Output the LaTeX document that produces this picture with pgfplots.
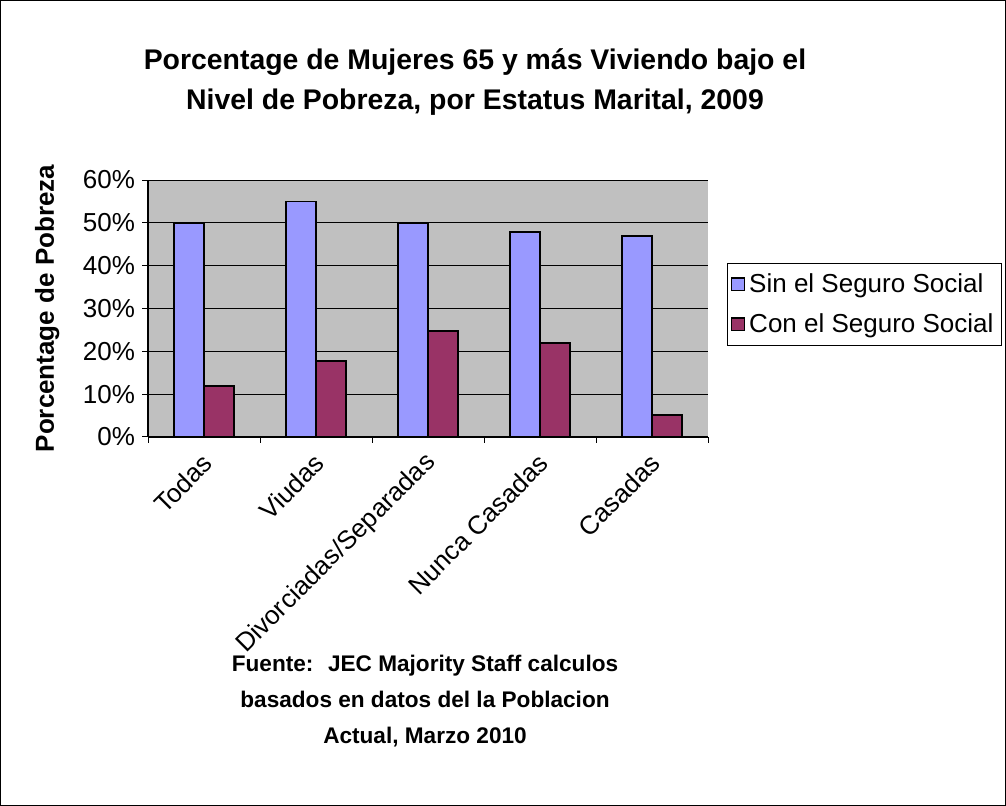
\documentclass[border=0pt]{standalone}
\usepackage{fontspec}
\setmainfont{Liberation Sans}
\usepackage{pgfplots}
\pgfplotsset{compat=1.18}
\definecolor{exblue}{HTML}{9999FF}
\definecolor{exred}{HTML}{993366}
\definecolor{exgray}{HTML}{C0C0C0}
\begin{document}
\begin{tikzpicture}
\draw[line width=0.7pt] (0.35pt,-0.35pt) rectangle (502.65pt,-402.65pt);
\node[font=\bfseries\fontsize{14.2}{20}\selectfont, align=center] at (237.5pt,-41pt) {Porcentage de Mujeres 65 y más Viviendo bajo el\\Nivel de Pobreza, por Estatus Marital, 2009};
\node[font=\bfseries\fontsize{11.3}{18}\selectfont, align=center] at (212.5pt,-350.5pt) {Fuente:~ JEC Majority Staff calculos\\basados en datos del la Poblacion\\Actual, Marzo 2010};
\begin{axis}[
  at={(74pt,-218.5pt)}, anchor=south west,
  scale only axis, width=280pt, height=128.5pt,
  ymin=0, ymax=60, xmin=-0.5, xmax=4.5,
  ybar=0pt, bar width=15pt,
  axis x line*=bottom, axis y line*=left,
  axis line style={-, line width=0.6pt},
  axis background/.style={fill=exgray},
  ymajorgrids, grid style={black, line width=0.5pt},
  ytick={0,10,...,60},
  yticklabel={\pgfmathprintnumber{\tick}\%},
  /pgf/number format/assume math mode=true,
  yticklabel style={font=\fontsize{13}{15}\selectfont},
  xtick={-0.5,0.5,1.5,2.5,3.5,4.5},
  xticklabels={},
  extra x ticks={0,1,2,3,4},
  extra x tick labels={Todas,Viudas,Divorciadas/Separadas,Nunca Casadas,Casadas},
  extra x tick style={major tick length=0pt},
  tick align=outside,
  major tick length=3pt,
  tick style={black, line width=0.5pt},
  xticklabel style={font=\fontsize{13}{15}\selectfont, rotate=45, anchor=east, yshift=-9pt, xshift=-3pt},
  ylabel={Porcentage de Pobreza},
  ylabel style={font=\bfseries\fontsize{13}{15}\selectfont, at={(axis description cs:-0.18,0.5)}, anchor=center},
  legend style={at={(axis description cs:1.525,0.516)}, anchor=east, draw=black, line width=0.5pt,
    font=\fontsize{13}{15}\selectfont, legend cell align=left, row sep=5pt,
    inner xsep=2pt, inner ysep=3pt},
  legend image code/.code={\draw[#1, draw=black, line width=0.6pt] (0.5pt,-3.2pt) rectangle (6.9pt,3.2pt);},
]
\addplot[fill=exblue, draw=black, line width=0.9pt] coordinates {(0,50) (1,55) (2,50) (3,47.8) (4,46.9)};
\addplot[fill=exred, draw=black, line width=0.9pt] coordinates {(0,12) (1,17.7) (2,24.7) (3,22) (4,5.1)};
\legend{Sin el Seguro Social, Con el Seguro Social}
\end{axis}
\pgfresetboundingbox
\useasboundingbox (0pt,0pt) rectangle (503pt,-403pt);
\end{tikzpicture}
\end{document}
